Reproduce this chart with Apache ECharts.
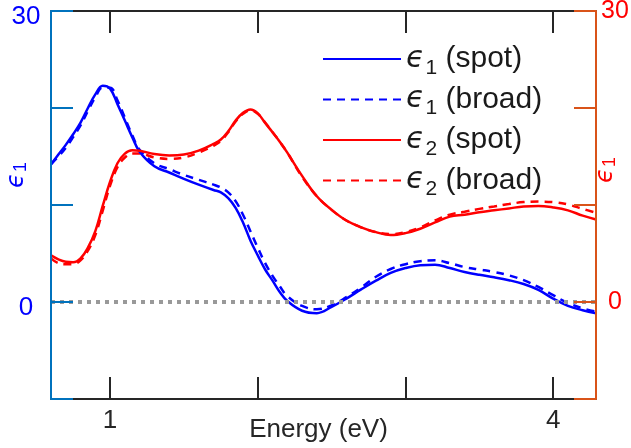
<!DOCTYPE html>
<html>
<head>
<meta charset="utf-8">
<script src="https://cdn.jsdelivr.net/npm/echarts@6/dist/echarts.min.js"></script>
<style>html,body{margin:0;padding:0;background:#fff;}#c{width:631px;height:448px;}</style>
</head>
<body>
<div id="c"></div>
<script>
const energy = [0.6,0.65,0.7,0.75,0.8,0.85,0.9,0.95,1.0,1.05,1.1,1.15,1.2,1.3,1.4,1.5,1.6,1.7,1.75,1.8,1.85,1.9,1.95,2.0,2.05,2.1,2.15,2.2,2.3,2.4,2.5,2.6,2.7,2.8,2.9,3.0,3.1,3.2,3.3,3.4,3.5,3.6,3.7,3.8,3.9,4.0,4.1,4.2,4.29];
const eps1Spot = [14.2,15.2,16.2,17.3,18.5,20.0,21.4,22.3,22.0,20.4,18.7,17.0,15.5,14.0,13.35,12.7,12.1,11.55,11.3,10.7,9.7,8.2,6.35,4.8,3.35,2.2,1.0,0.1,-0.9,-1.15,-0.5,0.35,1.3,2.2,3.0,3.5,3.8,3.85,3.5,3.1,2.8,2.55,2.25,1.85,1.25,0.35,-0.4,-0.85,-1.15];
const eps1Broad = [14.2,15.0,15.9,17.0,18.2,19.7,21.1,22.1,22.1,20.8,19.0,17.2,15.7,14.3,13.7,13.1,12.6,12.1,11.8,11.3,10.4,9.0,7.3,5.6,4.0,2.7,1.6,0.6,-0.4,-0.75,-0.35,0.5,1.5,2.6,3.4,3.9,4.2,4.3,4.0,3.6,3.35,3.1,2.75,2.25,1.55,0.7,-0.1,-0.65,-1.0];
const eps2Spot = [4.8,4.4,4.15,4.1,4.5,5.6,7.3,9.9,12.4,14.3,15.3,15.65,15.6,15.25,15.1,15.2,15.6,16.3,16.75,17.6,18.7,19.5,19.85,19.45,18.45,17.5,16.5,15.4,13.0,10.9,9.5,8.4,7.7,7.2,6.9,7.1,7.55,8.2,8.8,9.0,9.25,9.45,9.65,9.85,9.9,9.75,9.45,8.9,8.5];
const eps2Broad = [4.5,4.0,3.9,3.9,4.3,5.3,6.9,9.4,12.0,13.9,14.9,15.3,15.3,14.9,14.75,14.9,15.4,16.1,16.6,17.5,18.6,19.4,19.75,19.4,18.5,17.5,16.5,15.4,12.9,10.9,9.5,8.4,7.7,7.2,7.0,7.2,7.7,8.4,9.0,9.3,9.6,9.85,10.1,10.3,10.35,10.3,10.05,9.6,9.2];
const seriesNames = ['ϵ1 (spot)','ϵ1 (broad)','ϵ2 (spot)','ϵ2 (broad)'];
const xTicks = [1,2,3,4];
const xTickLabels = [1,4];
const yTickLabels = [0,30];

const FONT = 'Liberation Sans, Arial, sans-serif';
const pair = arr => energy.map((e,i)=>[e,arr[i]]);
const richSub = (color, big, small, drop) => ({
  e:{fontSize:big,fontStyle:'italic',fontFamily:'DejaVu Sans',color:color},
  s:{fontSize:small,fontFamily:FONT,color:color,padding:[drop,0,0,1]},
  t:{fontSize:big,fontFamily:FONT,color:color}
});
const BLUE='#0000ff', RED='#ff0000', AX1='#0072BD', AX2='#D95319', DARK='#262626';

const chart = echarts.init(document.getElementById('c'));
const xBase = {
  type:'value', min:0.6, max:4.29,
  splitLine:{show:false},
  axisLine:{onZero:false,lineStyle:{color:DARK,width:2}},
  axisTick:{inside:true,length:22,customValues:xTicks,lineStyle:{color:DARK,width:2}},
  z:1
};
const yBase = {
  type:'value', min:-10, max:30, interval:10,
  splitLine:{show:false}, z:5
};
chart.setOption({
  animation:false,
  backgroundColor:'#fff',
  grid:{left:51,right:35,top:11,bottom:49,containLabel:false,outerBoundsMode:'none'},
  legend:{
    orient:'vertical', left:322, top:44, padding:0, itemWidth:78, itemHeight:14, itemGap:6,
    data:seriesNames,
    itemStyle:{opacity:0},
    formatter: n => '{e|ϵ}{s|'+n.charAt(1)+'}{t| '+n.slice(3)+'}',
    textStyle:{rich:richSub('#1a1a1a',30,21,18)}
  },
  xAxis:[
    Object.assign({}, xBase, {position:'bottom',
      axisLabel:{customValues:xTickLabels,fontSize:26,fontFamily:FONT,color:DARK,margin:9},
      name:'Energy (eV)', nameLocation:'middle', nameGap:18, nameMoveOverlap:false,
      nameTextStyle:{fontSize:26,fontFamily:FONT,color:DARK,padding:[0,10,0,0]}}),
    Object.assign({}, xBase, {position:'top', axisLabel:{show:false}})
  ],
  yAxis:[
    Object.assign({}, yBase, {position:'left',
      axisLine:{onZero:false,lineStyle:{color:AX1,width:2}},
      axisTick:{inside:true,length:22,lineStyle:{color:AX1,width:2}},
      axisLabel:{customValues:yTickLabels,align:'center',margin:25,
        formatter: v => '{a|'+v+'}',
        rich:{a:{fontSize:26,fontFamily:FONT,color:BLUE,padding:[11,0,0,0]}}},
      name:'{e|ϵ}{s|1}', nameLocation:'middle', nameRotate:90, nameGap:21, nameMoveOverlap:false,
      nameTextStyle:{rich:richSub(BLUE,24,18,8),padding:[0,0,0,60]}}),
    Object.assign({}, yBase, {position:'right',
      axisLine:{onZero:false,lineStyle:{color:AX2,width:2}},
      axisTick:{inside:true,length:22,lineStyle:{color:AX2,width:2}},
      axisLabel:{customValues:yTickLabels,align:'center',margin:19,
        fontSize:25,fontFamily:FONT,color:RED},
      name:'{e|ϵ}{s|1}', nameLocation:'middle', nameRotate:90, nameGap:-3, nameMoveOverlap:false,
      nameTextStyle:{rich:richSub(RED,24,18,8),padding:[0,0,0,70]}})
  ],
  series:[
    {name:seriesNames[0],type:'line',yAxisIndex:0,data:pair(eps1Spot),smooth:0.4,symbol:'none',
     lineStyle:{color:BLUE,width:2.5},itemStyle:{color:BLUE},z:4,
     markLine:{silent:true,symbol:'none',label:{show:false},
       lineStyle:{color:'#999999',type:[4,5],width:4},data:[{yAxis:0}]}},
    {name:seriesNames[1],type:'line',yAxisIndex:0,data:pair(eps1Broad),smooth:0.4,symbol:'none',
     lineStyle:{color:BLUE,width:2.5,type:[8,6]},itemStyle:{color:BLUE},z:3},
    {name:seriesNames[2],type:'line',yAxisIndex:1,data:pair(eps2Spot),smooth:0.4,symbol:'none',
     lineStyle:{color:RED,width:2.5},itemStyle:{color:RED},z:4},
    {name:seriesNames[3],type:'line',yAxisIndex:1,data:pair(eps2Broad),smooth:0.4,symbol:'none',
     lineStyle:{color:RED,width:2.5,type:[8,6]},itemStyle:{color:RED},z:3}
  ]
});
</script>
</body>
</html>
